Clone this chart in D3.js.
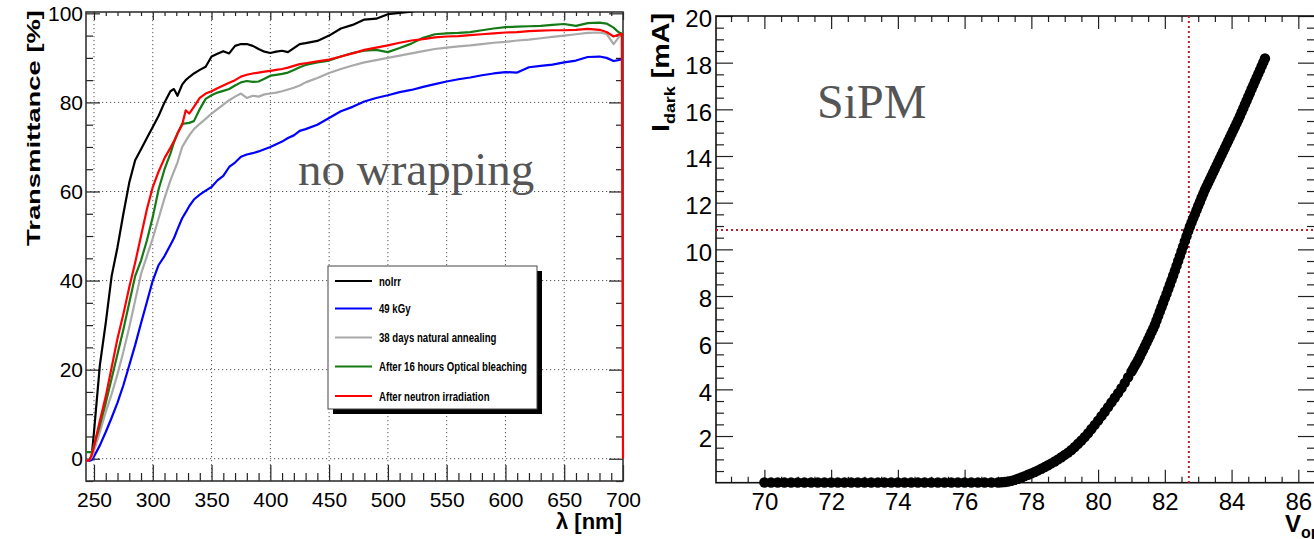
<!DOCTYPE html>
<html>
<head>
<meta charset="utf-8">
<script src="https://cdn.jsdelivr.net/npm/d3@7"></script>
<style>
  html, body { margin: 0; padding: 0; background: #fff; }
  svg { display: block; font-family: "Liberation Sans", Arial, Helvetica, sans-serif; }
</style>
</head>
<body>
<svg id="chart" width="1314" height="539"></svg>
<script>
// ---- left panel: transmittance vs wavelength ----
const wavelength = [243, 246, 248, 250, 255, 260, 265, 270, 275, 280, 285, 290, 295, 300, 305, 310, 315, 318, 321, 325,
  328, 331, 335, 340, 345, 350, 355, 360, 365, 370, 375, 380, 385, 390, 395, 400, 405, 410, 415, 420,
  425, 430, 440, 450, 460, 470, 480, 490, 500, 510, 520, 530, 540, 550, 560, 570, 580, 590, 600, 610,
  620, 630, 640, 650, 660, 670, 680, 686, 692, 696, 699, 700];

const noIrr = [-0.5, -0.3, 0.5, 6, 21, 30.5, 41, 47.5, 55, 62, 67, 69.5, 72, 74.5, 77, 80, 82.5, 83, 81.5, 84,
  85, 85.7, 86.5, 87.3, 88, 90.3, 90.9, 91.5, 91, 92.7, 93.1, 93.1, 92.7, 92, 91.4, 91.1, 91.4, 91.6, 91.3, 92.2,
  93.1, 93.3, 93.8, 95, 96.6, 97.4, 98.6, 98.8, 99.8, 100.1, 100.4, 101, 101.5, 101.8, 102, 102.2, 102.4, 102.5, 102.6, 102.7,
  102.8, 102.9, 103, 103, 103, 103, 103, 103, 102, 101.5, 101.5, 101.5];

const kGy49 = [-0.5, -0.5, -0.3, 0.5, 3, 6, 9.2, 12.6, 16.5, 21, 25.5, 30.4, 35.2, 40, 43.5, 45.5, 48, 49.5, 51.5, 54,
  55.3, 56.7, 58.2, 59.3, 60.2, 61, 62.5, 63.5, 65.5, 66.5, 67.8, 68.3, 68.6, 69, 69.5, 70, 70.6, 71.2, 72, 72.6,
  73.6, 74, 75, 76.5, 78, 79, 80.2, 81, 81.6, 82.3, 82.8, 83.5, 84.1, 84.7, 85.2, 85.6, 86.1, 86.5, 86.8, 86.7,
  87.9, 88.2, 88.5, 89, 89.4, 90.2, 90.3, 90, 89.3, 89.5, 89.7, 89.7];

const annealed38d = [-0.5, -0.3, 0.3, 1.8, 6, 10.5, 14.5, 19, 24, 29.5, 35.5, 41.5, 45.5, 49.5, 54, 58.5, 62.5, 64.5, 66.5, 70,
  71.3, 72.6, 74, 75.2, 76.3, 77.5, 78.5, 79.5, 80.5, 81.3, 82, 81, 81.5, 81.3, 81.8, 82, 82.2, 82.5, 82.9, 83.3,
  83.8, 84.5, 85.5, 86.6, 87.5, 88.3, 89, 89.5, 90, 90.5, 91, 91.5, 92, 92.3, 92.6, 92.8, 93.1, 93.4, 93.6, 93.9,
  94.1, 94.4, 94.7, 95, 95.3, 95.6, 95.7, 95.4, 93.1, 94.5, 95.4, 95.4];

const bleached16h = [1.5, 1.5, 1.5, 3, 7.5, 12.5, 18, 23.5, 29, 35, 41, 44.5, 49, 54.3, 60.5, 65, 68.5, 71, 73, 75.2,
  75.3, 75.4, 75.8, 78.5, 80.8, 81.6, 82.2, 82.6, 83, 83.8, 84.5, 84.8, 84.6, 84.7, 85.3, 86, 86.2, 86.4, 86.7, 87.3,
  87.9, 88.4, 89, 89.4, 90.3, 91.1, 91.6, 91.8, 91.3, 92.2, 93.2, 94.5, 95.3, 95.5, 95.6, 95.8, 96.2, 96.6, 96.9, 97,
  97.1, 97.2, 97.4, 97.6, 97.2, 97.8, 97.9, 97.7, 96.8, 95.8, 95.4, 95.4];

const neutronIrr = [-0.5, -0.3, 0.8, 2.8, 8.5, 14, 20.5, 27, 32.5, 38.5, 44, 50, 56, 61, 64.5, 67.5, 69.8, 71.3, 73, 75,
  78.2, 77.5, 79, 81, 82, 82.5, 83.2, 83.8, 84.4, 85, 85.8, 86.2, 86.5, 86.7, 86.9, 87.1, 87.3, 87.5, 87.8, 88.2,
  88.6, 88.8, 89.2, 89.6, 90.3, 91, 91.8, 92.3, 92.8, 93.4, 93.9, 94.2, 94.6, 94.8, 94.9, 95.1, 95.3, 95.5, 95.7, 95.8,
  96, 96.1, 96.2, 96.2, 96.3, 96.5, 96.3, 95.8, 94.8, 95.2, 95.4, 0];

const seriesNames  = ['noIrr', '49 kGy', '38 days natural annealing', 'After 16 hours Optical bleaching', 'After neutron irradiation'];
const seriesValues = [noIrr, kGy49, annealed38d, bleached16h, neutronIrr];
const seriesColors = ['#000000', '#0000ff', '#a9a9a9', '#157a15', '#ff0000'];

const lambdaTicks = [250, 300, 350, 400, 450, 500, 550, 600, 650, 700];
const transTicks  = [0, 20, 40, 60, 80, 100];

// ---- right panel: SiPM dark current vs bias ----
const biasV = [70.0, 70.2, 70.4, 70.6, 70.8, 71.0, 71.2, 71.4, 71.6, 71.8, 72.0, 72.2, 72.4, 72.6, 72.8, 73.0, 73.2, 73.4,
  73.6, 73.8, 74.0, 74.2, 74.4, 74.6, 74.8, 75.0, 75.2, 75.4, 75.6, 75.8, 76.0, 76.2, 76.4, 76.6, 76.8, 77.0,
  77.1, 77.2, 77.3, 77.4, 77.5, 77.6, 77.7, 77.8, 77.9, 78.0, 78.1, 78.2, 78.3, 78.4, 78.5, 78.6, 78.7, 78.8, 78.9,
  79.0, 79.1, 79.2, 79.3, 79.4, 79.5, 79.6, 79.7, 79.8, 79.9, 80.0, 80.1, 80.2, 80.3, 80.4, 80.5, 80.6, 80.7, 80.8, 80.9,
  81.0, 81.05, 81.1, 81.15, 81.2, 81.25, 81.3, 81.35, 81.4, 81.45,
  81.5, 81.55, 81.6, 81.65, 81.7, 81.75, 81.8, 81.85, 81.9, 81.95,
  82.0, 82.05, 82.1, 82.15, 82.2, 82.25, 82.3, 82.35, 82.4, 82.45,
  82.5, 82.55, 82.6, 82.65, 82.7, 82.75, 82.8, 82.85, 82.9, 82.95,
  83.0, 83.05, 83.1, 83.15, 83.2, 83.25, 83.3, 83.35, 83.4, 83.45,
  83.5, 83.55, 83.6, 83.65, 83.7, 83.75, 83.8, 83.85, 83.9, 83.95,
  84.0, 84.05, 84.1, 84.15, 84.2, 84.25, 84.3, 84.35, 84.4, 84.45,
  84.5, 84.55, 84.6, 84.65, 84.7, 84.75, 84.8, 84.85, 84.9, 84.95, 85.0];

const darkCurrent = [0.01, 0.01, 0.01, 0.01, 0.01, 0.01, 0.01, 0.01, 0.01, 0.01, 0.01, 0.01, 0.01, 0.01, 0.01, 0.01, 0.01, 0.01,
  0.01, 0.01, 0.01, 0.01, 0.01, 0.01, 0.01, 0.01, 0.01, 0.01, 0.01, 0.01, 0.01, 0.01, 0.01, 0.01, 0.01, 0.01,
  0.02, 0.03, 0.05, 0.08, 0.12, 0.17, 0.22, 0.28, 0.34, 0.4, 0.46, 0.53, 0.6, 0.67, 0.75, 0.83, 0.91, 1.0, 1.09,
  1.19, 1.29, 1.4, 1.53, 1.67, 1.81, 1.96, 2.12, 2.3, 2.48, 2.66, 2.85, 3.04, 3.24, 3.44, 3.64, 3.84, 4.05, 4.28, 4.52,
  4.76, 4.88, 5.01, 5.13, 5.26, 5.40, 5.55, 5.69, 5.84, 5.99,
  6.14, 6.29, 6.45, 6.60, 6.76, 6.95, 7.14, 7.33, 7.52, 7.71,
  7.9, 8.09, 8.29, 8.48, 8.68, 8.88, 9.08, 9.29, 9.5, 9.71,
  9.92, 10.13, 10.35, 10.56, 10.78, 10.97, 11.15, 11.33, 11.5, 11.68,
  11.86, 12.03, 12.21, 12.38, 12.55, 12.7, 12.85, 13.0, 13.15, 13.3,
  13.45, 13.6, 13.75, 13.9, 14.05, 14.2, 14.35, 14.5, 14.65, 14.8,
  14.95, 15.1, 15.25, 15.4, 15.55, 15.71, 15.88, 16.04, 16.21, 16.37,
  16.54, 16.7, 16.87, 17.03, 17.2, 17.36, 17.52, 17.68, 17.85, 18.01, 18.18];

const opVoltage = 82.72;
const opCurrent = 10.83;

const biasTicks    = [70, 72, 74, 76, 78, 80, 82, 84, 86];
const currentTicks = [2, 4, 6, 8, 10, 12, 14, 16, 18, 20];

const svg = d3.select('#chart');

// helper: draw a set of ticks with d3 axis, drop the domain line
function ticks(g, axis) {
  g.call(axis);
  g.select('.domain').remove();
  g.selectAll('.tick line').attr('stroke', '#222').attr('stroke-width', 1.2);
  return g;
}

// ================= LEFT PANEL =================
const L = { left: 86, right: 623, top: 12, bottom: 481 };
const xL = d3.scaleLinear().domain([243.2, 700]).range([L.left, L.right]);
const yL = d3.scaleLinear().domain([-5, 100.3]).range([L.bottom, L.top]);

const left = svg.append('g');

// grid
left.append('g').selectAll('line')
  .data(lambdaTicks.filter(v => v < 700))
  .join('line')
    .attr('x1', d => xL(d)).attr('x2', d => xL(d))
    .attr('y1', L.top).attr('y2', L.bottom)
    .attr('stroke', '#555').attr('stroke-width', 1).attr('stroke-dasharray', '1.2,2.8');
left.append('g').selectAll('line')
  .data(transTicks.filter(v => v < 100))
  .join('line')
    .attr('x1', L.left).attr('x2', L.right)
    .attr('y1', d => yL(d)).attr('y2', d => yL(d))
    .attr('stroke', '#555').attr('stroke-width', 1).attr('stroke-dasharray', '1.2,2.8');

const lamMinor = d3.range(250, 701, 10).filter(v => v % 50 !== 0);
const trMinor  = d3.range(-5, 101, 5).filter(v => v % 20 !== 0);

// bottom
ticks(left.append('g').attr('transform', `translate(0,${L.bottom})`),
  d3.axisBottom(xL).tickValues(lamMinor).tickSize(-8).tickFormat(''));
const bx = ticks(left.append('g').attr('transform', `translate(0,${L.bottom})`),
  d3.axisBottom(xL).tickValues(lambdaTicks).tickSize(-16).tickPadding(11).tickFormat(d3.format('d')));
bx.selectAll('text').attr('font-size', 21).attr('fill', '#000').attr('font-family', 'Liberation Sans, Arial, sans-serif');
// top
ticks(left.append('g').attr('transform', `translate(0,${L.top})`),
  d3.axisTop(xL).tickValues(lamMinor).tickSize(-4).tickFormat(''));
ticks(left.append('g').attr('transform', `translate(0,${L.top})`),
  d3.axisTop(xL).tickValues(lambdaTicks).tickSize(-8).tickFormat(''));
// left
ticks(left.append('g').attr('transform', `translate(${L.left},0)`),
  d3.axisLeft(yL).tickValues(trMinor).tickSize(-7).tickFormat(''));
const ly = ticks(left.append('g').attr('transform', `translate(${L.left},0)`),
  d3.axisLeft(yL).tickValues(transTicks).tickSize(-14).tickPadding(3).tickFormat(d3.format('d')));
ly.selectAll('text').attr('font-size', 21).attr('fill', '#000').attr('font-family', 'Liberation Sans, Arial, sans-serif');
// right
ticks(left.append('g').attr('transform', `translate(${L.right},0)`),
  d3.axisRight(yL).tickValues(trMinor).tickSize(-7).tickFormat(''));
ticks(left.append('g').attr('transform', `translate(${L.right},0)`),
  d3.axisRight(yL).tickValues(transTicks).tickSize(-14).tickFormat(''));

// frame
left.append('rect')
  .attr('x', L.left).attr('y', L.top)
  .attr('width', L.right - L.left).attr('height', L.bottom - L.top)
  .attr('fill', 'none').attr('stroke', '#333').attr('stroke-width', 1.6);

// curves
svg.append('clipPath').attr('id', 'clipL')
  .append('rect').attr('x', L.left).attr('y', L.top).attr('width', L.right - L.left + 2).attr('height', L.bottom - L.top);

const line = d3.line().x(d => xL(d[0])).y(d => yL(d[1]));
const curves = left.append('g').attr('clip-path', 'url(#clipL)');
seriesValues.forEach((vals, i) => {
  curves.append('path')
    .datum(wavelength.map((w, k) => [w, vals[k]]))
    .attr('d', line)
    .attr('fill', 'none')
    .attr('stroke', seriesColors[i])
    .attr('stroke-width', 2.2)
    .attr('stroke-linejoin', 'round');
});

// watermark
left.append('text')
  .attr('x', 298).attr('y', 185)
  .attr('font-family', '"Liberation Serif", "Times New Roman", serif')
  .attr('font-size', 47).attr('fill', '#555')
  .text('no wrapping');

// legend
const leg = left.append('g');
leg.append('rect').attr('x', 333).attr('y', 271).attr('width', 209).attr('height', 143).attr('fill', '#000');
leg.append('rect').attr('x', 328).attr('y', 266).attr('width', 209).attr('height', 143)
  .attr('fill', '#fff').attr('stroke', '#444').attr('stroke-width', 1);
const legRows = [281, 308.5, 337.5, 366.5, 396];
seriesNames.forEach((name, i) => {
  leg.append('line')
    .attr('x1', 335).attr('x2', 372).attr('y1', legRows[i]).attr('y2', legRows[i])
    .attr('stroke', seriesColors[i]).attr('stroke-width', 2.2);
  leg.append('text')
    .attr('transform', `translate(379,${legRows[i] + 4.5}) scale(0.74,1)`)
    .attr('font-size', 13).attr('font-weight', 'bold').attr('fill', '#000')
    .text(name);
});

// axis titles
left.append('text')
  .attr('transform', 'translate(40,128) rotate(-90)')
  .attr('text-anchor', 'middle')
  .attr('font-size', 18).attr('font-weight', 'bold')
  .attr('textLength', 236).attr('lengthAdjust', 'spacingAndGlyphs')
  .text('Transmittance [%]');
left.append('text')
  .attr('x', 622).attr('y', 529)
  .attr('text-anchor', 'end')
  .attr('font-size', 22).attr('font-weight', 'bold')
  .text('λ [nm]');

// ================= RIGHT PANEL =================
const R = { left: 716, right: 1316, top: 16, bottom: 482.7 };
const xR = d3.scaleLinear().domain([68.55, 86.53]).range([R.left, R.right]);
const yR = d3.scaleLinear().domain([0, 20]).range([R.bottom, R.top]);

const right = svg.append('g');

const vMinor = d3.range(69, 86.6, 0.5).filter(v => Math.abs(v % 2) > 0.01);
const iMinor = d3.range(0.5, 20, 0.5).filter(v => Math.abs(v % 2) > 0.01);

ticks(right.append('g').attr('transform', `translate(0,${R.bottom})`),
  d3.axisBottom(xR).tickValues(vMinor).tickSize(-6).tickFormat(''));
const rbx = ticks(right.append('g').attr('transform', `translate(0,${R.bottom})`),
  d3.axisBottom(xR).tickValues(biasTicks).tickSize(-13).tickPadding(10).tickFormat(d3.format('d')));
rbx.selectAll('text').attr('font-size', 24).attr('fill', '#000').attr('font-family', 'Liberation Sans, Arial, sans-serif');

ticks(right.append('g').attr('transform', `translate(0,${R.top})`),
  d3.axisTop(xR).tickValues(vMinor).tickSize(-6).tickFormat(''));
ticks(right.append('g').attr('transform', `translate(0,${R.top})`),
  d3.axisTop(xR).tickValues(biasTicks).tickSize(-13).tickFormat(''));

ticks(right.append('g').attr('transform', `translate(${R.left},0)`),
  d3.axisLeft(yR).tickValues(iMinor).tickSize(-8).tickFormat(''));
const rly = ticks(right.append('g').attr('transform', `translate(${R.left},0)`),
  d3.axisLeft(yR).tickValues(currentTicks).tickSize(-17).tickPadding(4).tickFormat(d3.format('d')));
rly.selectAll('text').attr('font-size', 24).attr('fill', '#000').attr('dy', '0.45em')
  .attr('font-family', 'Liberation Sans, Arial, sans-serif');

ticks(right.append('g').attr('transform', `translate(${R.right},0)`),
  d3.axisRight(yR).tickValues(iMinor).tickSize(-9).tickFormat(''));
ticks(right.append('g').attr('transform', `translate(${R.right},0)`),
  d3.axisRight(yR).tickValues(currentTicks).tickSize(-18).tickFormat(''));

right.append('rect')
  .attr('x', R.left).attr('y', R.top)
  .attr('width', R.right - R.left).attr('height', R.bottom - R.top)
  .attr('fill', 'none').attr('stroke', '#111').attr('stroke-width', 1.6);

// operating point guides
right.append('line')
  .attr('x1', R.left).attr('x2', R.right)
  .attr('y1', yR(opCurrent)).attr('y2', yR(opCurrent))
  .attr('stroke', '#b8202c').attr('stroke-width', 2).attr('stroke-dasharray', '2,3');
right.append('line')
  .attr('x1', xR(opVoltage)).attr('x2', xR(opVoltage))
  .attr('y1', R.top).attr('y2', R.bottom)
  .attr('stroke', '#b8202c').attr('stroke-width', 2).attr('stroke-dasharray', '2,3');

// measured points
right.append('g').selectAll('circle')
  .data(biasV.map((v, k) => [v, darkCurrent[k]]))
  .join('circle')
    .attr('cx', d => xR(d[0]))
    .attr('cy', d => yR(d[1]))
    .attr('r', 5.2)
    .attr('fill', '#000');

right.append('text')
  .attr('x', 817).attr('y', 118)
  .attr('font-family', '"Liberation Serif", "Times New Roman", serif')
  .attr('font-size', 48).attr('fill', '#555')
  .text('SiPM');

const yt = right.append('text')
  .attr('transform', 'translate(669,132) rotate(-90)')
  .attr('font-weight', 'bold')
  .attr('textLength', 119).attr('lengthAdjust', 'spacingAndGlyphs');
yt.append('tspan').attr('font-size', 24).text('I');
yt.append('tspan').attr('font-size', 15).attr('dy', 6).text('dark');
yt.append('tspan').attr('font-size', 24).attr('dy', -6).text(' [mA]');

const xt = right.append('text')
  .attr('x', 1285).attr('y', 532)
  .attr('font-weight', 'bold');
xt.append('tspan').attr('font-size', 24).text('V');
xt.append('tspan').attr('font-size', 16).attr('dy', 6).text('op');
xt.append('tspan').attr('font-size', 24).attr('dy', -6).text(' [V]');
</script>
</body>
</html>
